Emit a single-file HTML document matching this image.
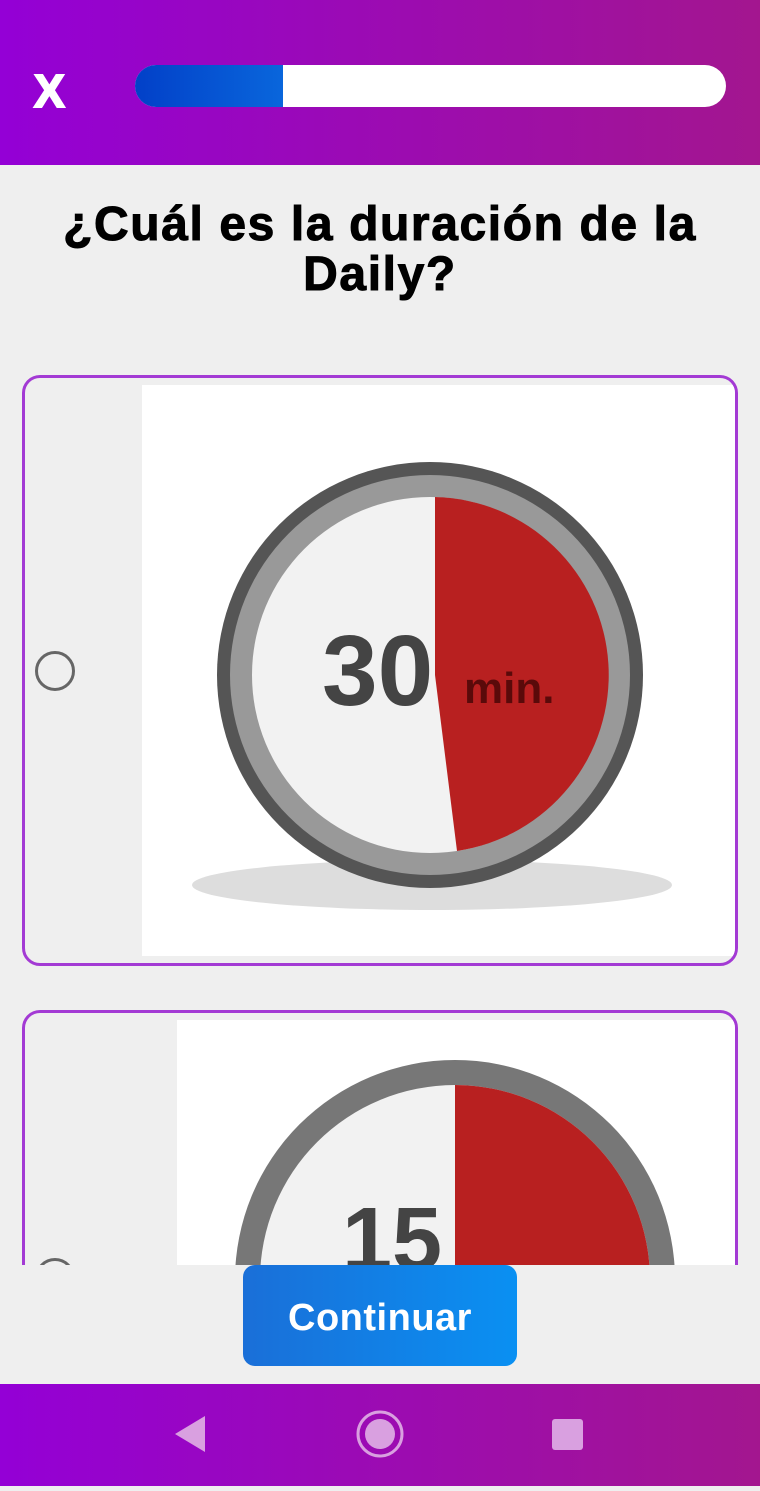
<!DOCTYPE html>
<html><head><meta charset="utf-8"><style>
*{margin:0;padding:0;box-sizing:border-box}
body{width:760px;height:1486px;background:#efefef;font-family:"Liberation Sans",sans-serif;position:relative;overflow:hidden}
.hdr{position:absolute;left:0;top:0;width:760px;height:165px;background:linear-gradient(90deg,#9400d6,#a3168f)}
.x{position:absolute;left:34px;top:64px;color:#fff;font-size:46px;font-weight:bold;-webkit-text-stroke:2px #fff}
.bar{position:absolute;left:135px;top:65px;width:591px;height:42px;background:#fff;border-radius:21px;overflow:hidden}
.fill{width:148px;height:100%;background:linear-gradient(90deg,#0240c8,#0966dc)}
h1{position:absolute;left:0;top:200px;width:760px;text-align:center;font-size:48px;line-height:50px;font-weight:bold;color:#000;letter-spacing:1.6px;-webkit-text-stroke:1px #000}
.card{position:absolute;left:22px;width:716px;border:3px solid #a33ad4;border-radius:18px;background:#efefef;overflow:hidden}
.radio{position:absolute;width:40px;height:40px;border:3px solid #666;border-radius:50%}
.img{position:absolute;background:#fff}
.clip{position:absolute;left:0;top:0;width:760px;height:1265px;overflow:hidden}
.btn{position:absolute;left:243px;top:1265px;width:274px;height:101px;border-radius:12px;background:linear-gradient(90deg,#1a6fd8,#0a90f2);color:#fff;font-size:38px;font-weight:bold;text-align:center;line-height:106px;letter-spacing:0.5px}
.nav{position:absolute;left:0;top:1384px;width:760px;height:102px;background:linear-gradient(90deg,#9400d6,#a3168f)}
</style></head><body>
<div class="hdr">
<div class="x">X</div>
<div class="bar"><div class="fill"></div></div>
</div>
<h1>¿Cuál es la duración de la<br>Daily?</h1>
<div class="clip">
<div class="card" style="top:375px;height:591px">
<div class="radio" style="left:10px;top:273px"></div>
<div class="img" style="left:117px;top:7px;width:593px;height:571px">
<svg width="593" height="571" viewBox="0 0 593 571">
<ellipse cx="290" cy="500" rx="240" ry="25" fill="#ddd"/>
<circle cx="288" cy="290" r="213" fill="#555"/>
<circle cx="288" cy="290" r="200" fill="#999"/>
<circle cx="288" cy="290" r="178" fill="#f2f2f2"/>
<path d="M293 112 A178 178 0 0 1 315 466 L293 290 Z" fill="#b82020"/>
<text x="180" y="320" font-size="100" font-weight="bold" fill="#444" font-family="Liberation Sans">30</text>
<text x="322" y="318" font-size="44" font-weight="bold" fill="#5a0a0a" font-family="Liberation Sans">min.</text>
</svg></div>
</div>
<div class="card" style="top:1010px;height:400px">
<div class="radio" style="left:10px;top:245px"></div>
<div class="img" style="left:152px;top:7px;width:558px;height:400px">
<svg width="558" height="400"><circle cx="278" cy="260" r="220" fill="#777"/><circle cx="278" cy="260" r="195" fill="#f2f2f2"/>
<path d="M278 65 A195 195 0 0 1 473 260 L278 260 Z" fill="#b82020"/>
<text x="165" y="250" font-size="90" font-weight="bold" fill="#444" font-family="Liberation Sans">15</text></svg></div>
</div>
</div>
<div class="btn">Continuar</div>
<div class="nav">
<svg width="760" height="102">
<polygon points="205,32 205,68 175,50" fill="#d9a0e0"/>
<circle cx="380" cy="50" r="22" fill="none" stroke="#d9a0e0" stroke-width="3"/>
<circle cx="380" cy="50" r="15" fill="#d9a0e0"/>
<rect x="552" y="35" width="31" height="31" rx="3" fill="#d9a0e0"/>
</svg></div>
</body></html>
